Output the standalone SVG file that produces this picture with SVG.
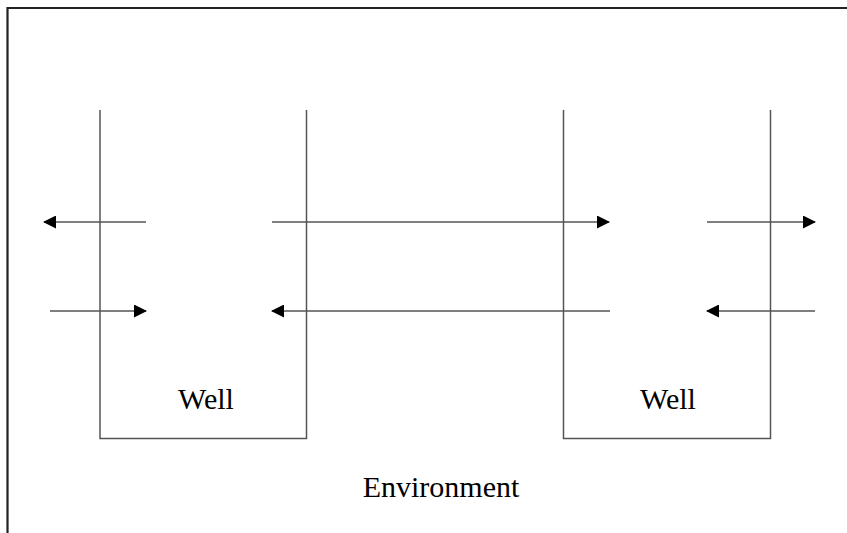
<svg xmlns="http://www.w3.org/2000/svg" width="847" height="533" viewBox="0 0 847 533">
<defs>
<marker id="ah" markerWidth="13" markerHeight="13" refX="12" refY="6.5" orient="auto" markerUnits="userSpaceOnUse">
<path d="M0,0 L13,6.5 L0,13 Z" fill="#000"/>
</marker>
<style>
.edge{stroke:#555;stroke-width:1.4;fill:none}
.well{stroke:#555;stroke-width:1.5;fill:none}
.lbl{font-family:"Liberation Serif","Times New Roman",serif;font-size:30px;fill:#000;text-anchor:middle}
</style>
</defs>
<rect width="847" height="533" fill="#fff"/>
<g id="environment">
<path d="M7.5,540 L7.5,8 L850,8" stroke="#222" stroke-width="2.2" fill="none"/>
<text class="lbl" x="441" y="497">Environment</text>
</g>
<g id="well-left">
<path class="well" d="M100,110 L100,438.5 L306.5,438.5 L306.5,110"/>
<text class="lbl" x="206" y="409">Well</text>
</g>
<g id="well-right">
<path class="well" d="M563.5,110 L563.5,438.5 L770.5,438.5 L770.5,110"/>
<text class="lbl" x="668" y="409">Well</text>
</g>
<g id="connectors">
<line class="edge" x1="146" y1="222" x2="44" y2="222" marker-end="url(#ah)"/>
<line class="edge" x1="50" y1="311" x2="146" y2="311" marker-end="url(#ah)"/>
<line class="edge" x1="272" y1="222" x2="609" y2="222" marker-end="url(#ah)"/>
<line class="edge" x1="610" y1="311" x2="272" y2="311" marker-end="url(#ah)"/>
<line class="edge" x1="707" y1="222" x2="815" y2="222" marker-end="url(#ah)"/>
<line class="edge" x1="815" y1="311" x2="707" y2="311" marker-end="url(#ah)"/>
</g>
</svg>
